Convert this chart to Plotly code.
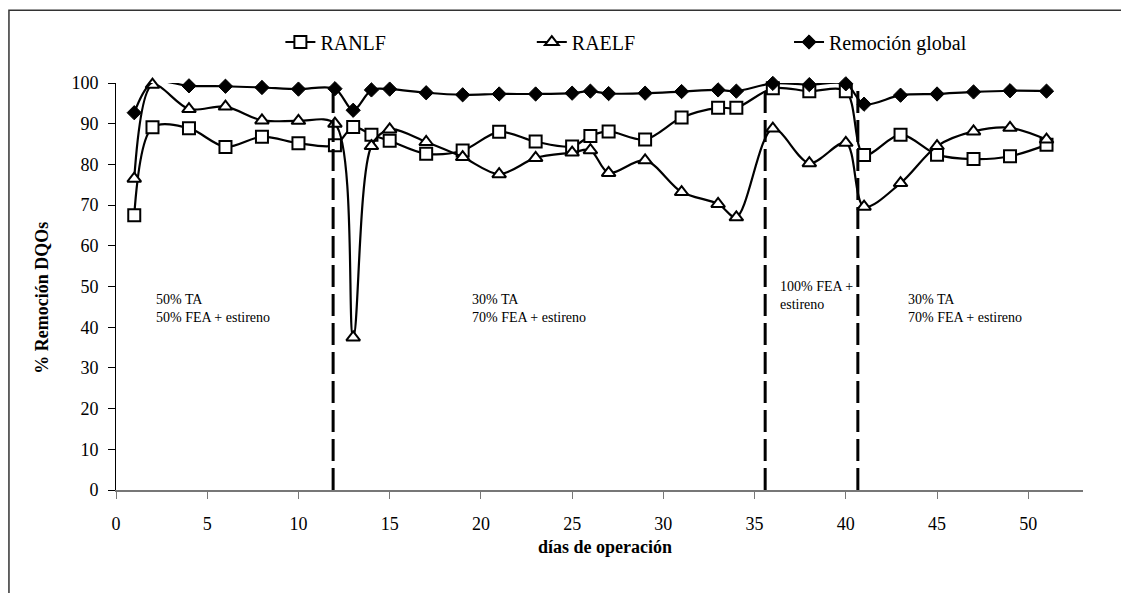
import plotly.graph_objects as go

# ---- data ----
days = [1, 2, 4, 6, 8, 10, 12, 13, 14, 15, 17, 19, 21, 23, 25, 26, 27, 29, 31, 33,
        34, 36, 38, 40, 41, 43, 45, 47, 49, 51]
ranlf = [67.5, 89.1, 88.9, 84.3, 86.8, 85.2, 84.7, 89.2, 87.3, 85.8, 82.6, 83.4, 88.0,
         85.6, 84.4, 87.0, 88.1, 86.1, 91.5, 93.9, 93.9, 98.7, 98.0, 98.0, 82.3, 87.3,
         82.4, 81.3, 82.0, 84.8]
raelf = [76.5, 99.6, 93.6, 94.2, 90.8, 90.7, 90.0, 37.5, 84.5, 88.6, 85.5, 81.8, 77.6,
         81.6, 82.9, 83.5, 77.9, 81.0, 73.2, 70.3, 67.0, 88.8, 80.3, 85.3, 69.6, 75.4,
         84.5, 88.1, 89.0, 86.1]
remocion_global = [92.7, 100.2, 99.3, 99.2, 98.9, 98.5, 98.6, 93.3, 98.3, 98.5, 97.6,
                   97.1, 97.3, 97.3, 97.5, 98.0, 97.4, 97.5, 97.9, 98.3, 98.0, 99.9,
                   99.6, 99.8, 94.8, 97.0, 97.3, 97.8, 98.1, 98.0]
phase_bounds = [11.9, 35.58, 40.66]
phase_labels = ["50% TA<br>50% FEA + estireno",
                "30% TA<br>70% FEA + estireno",
                "100% FEA +<br>estireno",
                "30% TA<br>70% FEA + estireno"]
phase_label_x = [2.1, 19.4, 36.3, 43.3]
phase_label_y = [44.6, 44.6, 47.7, 44.5]
x_ticks = [0, 5, 10, 15, 20, 25, 30, 35, 40, 45, 50]
y_ticks = [0, 10, 20, 30, 40, 50, 60, 70, 80, 90, 100]

SERIF = "Liberation Serif, Times New Roman, serif"
smooth = 0.9

fig = go.Figure()
fig.add_trace(go.Scatter(
    x=days, y=ranlf, name="RANLF", mode="lines+markers", legend="legend",
    line=dict(color="black", width=2.2, shape="spline", smoothing=smooth),
    marker=dict(symbol="square", size=12, color="white", line=dict(color="black", width=2)),
    cliponaxis=False))
fig.add_trace(go.Scatter(
    x=days, y=raelf, name="RAELF", mode="lines+markers", legend="legend2",
    line=dict(color="black", width=2.2, shape="spline", smoothing=smooth),
    marker=dict(symbol="triangle-up", size=12, color="white", line=dict(color="black", width=2)),
    cliponaxis=False))
fig.add_trace(go.Scatter(
    x=days, y=remocion_global, name="Remoción global", mode="lines+markers", legend="legend3",
    line=dict(color="black", width=2.2, shape="spline", smoothing=smooth),
    marker=dict(symbol="diamond", size=11, color="black", line=dict(color="black", width=1)),
    cliponaxis=False))

shapes = []
for xb in phase_bounds:
    shapes.append(dict(type="line", xref="x", yref="y", x0=xb, x1=xb, y0=0, y1=99.5,
                       line=dict(color="black", width=3, dash="22px,7px")))
# outer chart-area border (partially visible)
shapes.append(dict(type="rect", xref="paper", yref="paper", x0=-0.1107, x1=1.2,
                   y0=-0.4, y1=1.179, line=dict(color="#333", width=1.5), layer="below"))

annotations = []
for t, xx, yy in zip(phase_labels, phase_label_x, phase_label_y):
    annotations.append(dict(text=t, x=xx, y=yy, xref="x", yref="y", xanchor="left",
                            yanchor="middle", align="left", showarrow=False,
                            font=dict(family=SERIF, size=14, color="black")))
annotations.append(dict(text="<b>días de operación</b>", x=0.5057, y=-0.140, xref="paper",
                        yref="paper", xanchor="center", yanchor="middle", showarrow=False,
                        font=dict(family=SERIF, size=18, color="black")))
annotations.append(dict(text="<b>% Remoción DQOs</b>", x=-0.0768, y=0.472, xref="paper",
                        yref="paper", xanchor="center", yanchor="middle", showarrow=False,
                        textangle=-90, font=dict(family=SERIF, size=18, color="black")))

leg_common = dict(orientation="h", yanchor="middle", y=1.1007, xanchor="left",
                  font=dict(family=SERIF, size=20, color="black"),
                  bgcolor="rgba(0,0,0,0)")

fig.update_layout(
    width=1121, height=585,
    margin=dict(l=108, r=46, t=75, b=103),
    paper_bgcolor="white", plot_bgcolor="white",
    showlegend=True,
    legend=dict(x=0.170, **leg_common),
    legend2=dict(x=0.430, **leg_common),
    legend3=dict(x=0.696, **leg_common),
    shapes=shapes, annotations=annotations,
    xaxis=dict(range=[0, 53], tickvals=x_ticks, ticks="outside", ticklen=7,
               tickcolor="#777", showline=True, linecolor="#777", linewidth=1.5,
               showgrid=False, zeroline=False, ticklabelstandoff=10,
               tickfont=dict(family=SERIF, size=18, color="black")),
    yaxis=dict(range=[0, 100], tickvals=y_ticks, ticks="outside", ticklen=7,
               tickcolor="black", showline=True, linecolor="black", linewidth=1,
               showgrid=False, zeroline=False, ticklabelstandoff=6,
               tickfont=dict(family=SERIF, size=18, color="black")),
)

fig.write_html("out.html")
